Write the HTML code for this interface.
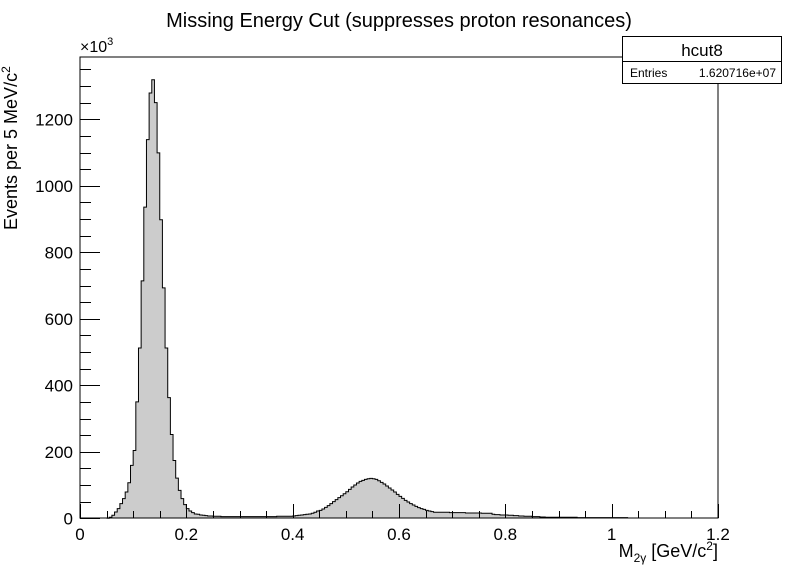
<!DOCTYPE html>
<html><head><meta charset="utf-8"><style>
body{margin:0;background:#fff}
svg{display:block;font-family:"Liberation Sans",sans-serif}
</style></head><body>
<svg id="chart" width="798" height="576">
<rect width="798" height="576" fill="#fff"/>
<text x="399" y="27" font-size="20" text-anchor="middle">Missing Energy Cut (suppresses proton resonances)</text>
<g id="hist"></g>
<g id="axes"></g>
<rect x="80" y="57" width="638" height="461" fill="none" stroke="#000" stroke-width="1"/>
<text x="80" y="52" font-size="16">×10<tspan dy="-7" font-size="11">3</tspan></text>
<text transform="translate(17,230) rotate(-90)" font-size="18" text-anchor="start">Events per 5 MeV/c<tspan dy="-7" font-size="12">2</tspan></text>
<text x="718" y="557" font-size="18" text-anchor="end">M<tspan dy="5" font-size="12">2γ</tspan><tspan dy="-5"> [GeV/c</tspan><tspan dy="-7" font-size="12">2</tspan><tspan dy="7">]</tspan></text>
<g>
<rect x="622.5" y="36.5" width="159" height="47" fill="#fff" stroke="#000"/>
<line x1="622.5" y1="61.5" x2="781.5" y2="61.5" stroke="#000"/>
<text x="702" y="56" font-size="17" text-anchor="middle">hcut8</text>
<text x="630" y="77" font-size="12">Entries</text>
<text x="776" y="77" font-size="12" text-anchor="end">1.620716e+07</text>
</g>
</svg>
<script>
const binStart = 0.05;
const binWidth = 0.005;
const counts = [
0,3,9,19,29,44,59,79,107,159,
204,350,512,714,936,1139,1279,1319,1250,1099,
898,693,512,363,252,174,121,84,59,41,
29,22,17,13,12,10,9,8,7,7,
6,6,6,5,5,5,5,5,5,5,
5,5,5,5,5,5,5,5,5,5,
5,5,5,5,6,6,6,6,6,6,
7,8,9,10,11,12,13,15,18,22,
24,28,33,38,44,50,56,62,68,74,
80,87,94,100,106,111,114,117,119,120,
119,117,113,108,103,97,91,85,79,72,
66,60,54,49,44,40,36,32,29,27,
24,22,20,18,18,18,18,18,18,17,
17,17,17,17,17,16,16,16,16,16,
16,15,15,15,15,12,11,11,10,10,
10,9,9,8,8,7,7,6,6,6,
5,5,5,4,4,3,3,3,3,3,
3,3,3,3,3,3,3,2,2,2,
2,2,2,2,2,2,2,2,2,2,
2,2,2,2,2,2,1,1,1,1,
1,1,1,1,1
];
const xTicks = [0,0.2,0.4,0.6,0.8,1,1.2];
const xTickLabels = ["0","0.2","0.4","0.6","0.8","1","1.2"];
const yTicks = [0,200,400,600,800,1000,1200];
const yTickLabels = ["0","200","400","600","800","1000","1200"];

const X0=80,X1=718,Y0=518.3,Y1=57;
const xMax=1.2, yMax=(Y0-Y1)/0.3325;
function sx(v){return X0+v/xMax*(X1-X0);}
function sy(v){return Y0-v*0.3325;}
const NS="http://www.w3.org/2000/svg";
const hist=document.getElementById('hist');
let d="M"+sx(binStart)+","+sy(0);
counts.forEach((c,i)=>{
  const a=binStart+i*binWidth,b=a+binWidth;
  d+=" L"+sx(a).toFixed(2)+","+sy(c).toFixed(2)+" L"+sx(b).toFixed(2)+","+sy(c).toFixed(2);
});
d+=" L"+sx(binStart+counts.length*binWidth).toFixed(2)+","+sy(0);
const p=document.createElementNS(NS,'path');
p.setAttribute('d',d);p.setAttribute('fill','#cccccc');p.setAttribute('stroke','#000');p.setAttribute('stroke-width','1');


hist.appendChild(p);

const axes=document.getElementById('axes');
function line(x1,y1,x2,y2,name){
  const l=document.createElementNS(NS,'line');
  l.setAttribute('x1',x1);l.setAttribute('y1',y1);l.setAttribute('x2',x2);l.setAttribute('y2',y2);
  l.setAttribute('stroke','#000');
  
  
  axes.appendChild(l);
}
function text(x,y,s,anchor,name){
  const t=document.createElementNS(NS,'text');
  t.setAttribute('x',x);t.setAttribute('y',y);t.setAttribute('font-size','17');t.setAttribute('text-anchor',anchor);
  t.textContent=s;
  
  
  axes.appendChild(t);
}
for(let v=0;v<=1.2001;v+=0.05){
  const major=Math.abs(v/0.2-Math.round(v/0.2))<1e-6;
  const x=Math.round(sx(v))+0.5;
  line(x,518,x,518-(major?14:7),'x-tick');
}
xTicks.forEach((v,i)=>text(sx(v),540,xTickLabels[i],'middle','x-tick-label'));
for(let v=0;v<=yMax;v+=50){
  const major=v%200===0;
  const y=Math.round(sy(v))+0.5;
  line(80,y,80+(major?20:11),y,'y-tick');
}
yTicks.forEach((v,i)=>text(73,sy(v)+6,yTickLabels[i],'end','y-tick-label'));
</script>
</body></html>
